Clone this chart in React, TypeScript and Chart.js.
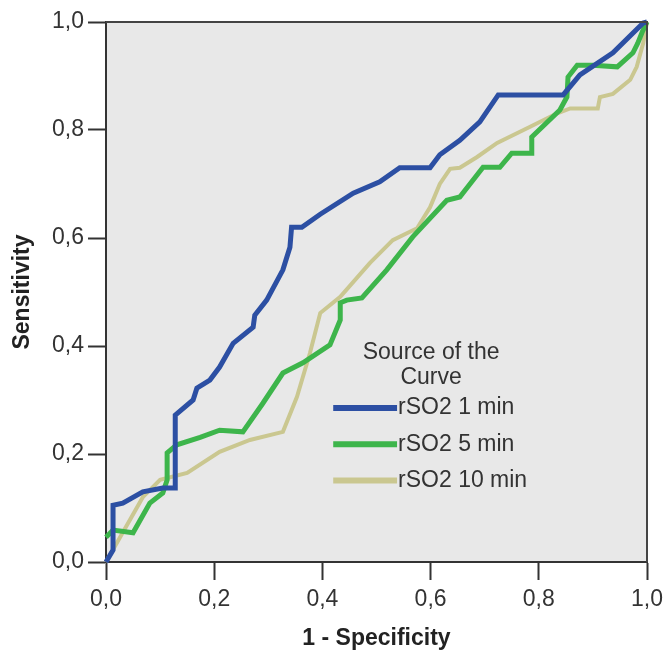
import React, { useEffect, useRef } from "react";
import { Chart, registerables } from "chart.js";

Chart.register(...registerables);

// ---- data ----
const SERIES_LABELS = ["rSO2 1 min", "rSO2 5 min", "rSO2 10 min"];
const LEGEND_TITLE = ["Source of the", "Curve"];
const X_TITLE = "1 - Specificity";
const Y_TITLE = "Sensitivity";
const TICK_VALUES = [0, 0.2, 0.4, 0.6, 0.8, 1.0];
const TICK_LABELS = ["0,0", "0,2", "0,4", "0,6", "0,8", "1,0"];

const blueX = [0, 0.013, 0.013, 0.031, 0.068, 0.105, 0.128, 0.128, 0.161, 0.168, 0.192, 0.21, 0.235, 0.272, 0.275, 0.297, 0.327, 0.34, 0.343, 0.362, 0.396, 0.457, 0.506, 0.543, 0.599, 0.617, 0.654, 0.691, 0.725, 0.845, 0.876, 0.937, 0.993, 1];
const blueY = [0, 0.022, 0.105, 0.109, 0.13, 0.137, 0.137, 0.272, 0.3, 0.322, 0.337, 0.361, 0.405, 0.435, 0.457, 0.485, 0.541, 0.583, 0.62, 0.62, 0.644, 0.683, 0.704, 0.73, 0.73, 0.754, 0.781, 0.815, 0.865, 0.865, 0.902, 0.943, 0.998, 1];

const greenX = [0, 0.013, 0.05, 0.081, 0.105, 0.113, 0.113, 0.131, 0.174, 0.21, 0.253, 0.29, 0.327, 0.364, 0.414, 0.433, 0.433, 0.445, 0.473, 0.519, 0.567, 0.63, 0.654, 0.697, 0.728, 0.75, 0.787, 0.787, 0.839, 0.852, 0.854, 0.871, 0.9, 0.945, 0.974, 0.983, 0.991, 1];
const greenY = [0.046, 0.059, 0.054, 0.109, 0.128, 0.152, 0.202, 0.217, 0.231, 0.244, 0.241, 0.294, 0.35, 0.369, 0.402, 0.448, 0.48, 0.485, 0.489, 0.541, 0.602, 0.67, 0.676, 0.731, 0.731, 0.757, 0.757, 0.787, 0.837, 0.861, 0.898, 0.92, 0.92, 0.917, 0.943, 0.961, 0.981, 1];

const khakiX = [0, 0.026, 0.068, 0.1, 0.15, 0.21, 0.266, 0.327, 0.353, 0.377, 0.396, 0.433, 0.488, 0.53, 0.575, 0.599, 0.617, 0.636, 0.654, 0.686, 0.723, 0.784, 0.834, 0.858, 0.909, 0.913, 0.937, 0.969, 0.981, 0.993, 1];
const khakiY = [0, 0.046, 0.12, 0.152, 0.165, 0.204, 0.226, 0.241, 0.306, 0.387, 0.461, 0.491, 0.554, 0.596, 0.618, 0.657, 0.7, 0.728, 0.73, 0.75, 0.776, 0.806, 0.831, 0.84, 0.84, 0.861, 0.867, 0.893, 0.917, 0.961, 1];

const COLORS = ["#2c4fa3", "#3db54b", "#cac790"];
const WIDTHS = [5, 5, 4];

const FONT = '"Liberation Sans", Arial, sans-serif';

const pts = (xs: number[], ys: number[]) => xs.map((x, i) => ({ x, y: ys[i] }));

const framePlugin = {
  id: "frame",
  beforeDraw(chart: any) {
    const { ctx, chartArea: a } = chart;
    ctx.save();
    ctx.fillStyle = "#ffffff";
    ctx.fillRect(0, 0, chart.width, chart.height);
    ctx.fillStyle = "#e8e8e8";
    ctx.fillRect(a.left, a.top, a.right - a.left, a.bottom - a.top);
    ctx.restore();
  },
  afterDraw(chart: any) {
    const { ctx, chartArea: a } = chart;
    ctx.save();
    ctx.strokeStyle = "#444";
    ctx.lineWidth = 2;
    ctx.beginPath();
    ctx.moveTo(a.left, a.top);
    ctx.lineTo(a.right, a.top);
    ctx.lineTo(a.right, a.bottom);
    ctx.stroke();
    ctx.restore();
  },
};

const legendPlugin = {
  id: "inlineLegend",
  afterDatasetsDraw(chart: any) {
    const { ctx, chartArea: a } = chart;
    const w = a.right - a.left;
    const h = a.bottom - a.top;
    const fx = (f: number) => a.left + f * w;
    const fy = (f: number) => a.top + f * h;
    ctx.save();
    ctx.font = `23px ${FONT}`;
    ctx.fillStyle = "#333";
    ctx.textBaseline = "middle";
    ctx.textAlign = "center";
    LEGEND_TITLE.forEach((t, i) => ctx.fillText(t, fx(0.601), fy(0.613 + i * 0.046)));
    ctx.textAlign = "left";
    chart.data.datasets.forEach((ds: any, i: number) => {
      const y = fy(0.715 + i * 0.067);
      ctx.strokeStyle = ds.borderColor;
      ctx.lineWidth = 6;
      ctx.beginPath();
      ctx.moveTo(fx(0.42), y);
      ctx.lineTo(fx(0.538), y);
      ctx.stroke();
      ctx.fillText(ds.label, fx(0.538) + 1, y);
    });
    ctx.restore();
  },
};

export default function App() {
  const ref = useRef<HTMLCanvasElement>(null);
  useEffect(() => {
    if (!ref.current) return;
    const series = [pts(blueX, blueY), pts(greenX, greenY), pts(khakiX, khakiY)];
    const tickCb = (_v: any, i: number) => TICK_LABELS[i];
    const axisCommon = {
      type: "linear" as const,
      min: 0,
      max: 1,
      afterBuildTicks: (s: any) => {
        s.ticks = TICK_VALUES.map((v) => ({ value: v }));
      },
      grid: {
        drawOnChartArea: false,
        drawTicks: true,
        tickLength: 18,
        tickWidth: 2,
        color: "#333",
      },
      border: { display: true, color: "#333", width: 2 },
    };
    const chart = new Chart(ref.current, {
      type: "line",
      data: {
        datasets: series.map((d, i) => ({
          label: SERIES_LABELS[i],
          data: d,
          borderColor: COLORS[i],
          backgroundColor: COLORS[i],
          borderWidth: WIDTHS[i],
          pointRadius: 0,
          tension: 0,
          fill: false,
          clip: 6,
          borderJoinStyle: "miter" as const,
        })),
      },
      options: {
        responsive: false,
        animation: false,
        layout: { padding: { top: 22, right: 18, left: 0, bottom: 0 } },
        plugins: { legend: { display: false }, tooltip: { enabled: false } },
        scales: {
          x: {
            ...axisCommon,
            position: "bottom",
            afterFit: (s: any) => {
              s.height = 95;
              s.paddingLeft = 0;
              s.paddingRight = 0;
            },
            ticks: { callback: tickCb, font: { family: FONT, size: 23 }, color: "#333", padding: 6, maxRotation: 0 },
            title: { display: true, text: X_TITLE, font: { family: FONT, size: 23, weight: "bold" }, color: "#222", padding: { top: 0, bottom: 5 } },
          },
          y: {
            ...axisCommon,
            position: "left",
            afterFit: (s: any) => {
              s.width = 106;
              s.paddingTop = 0;
              s.paddingBottom = 0;
            },
            ticks: { callback: tickCb, font: { family: FONT, size: 23 }, color: "#333", padding: 4 },
            title: { display: true, text: Y_TITLE, font: { family: FONT, size: 23, weight: "bold" }, color: "#222", padding: { top: 9, bottom: 0 } },
          },
        },
      } as any,
      plugins: [framePlugin, legendPlugin],
    });
    return () => chart.destroy();
  }, []);
  return (
    <div style={{ position: "fixed", left: 0, top: 0, width: 665, height: 657, background: "#fff" }}>
      <canvas ref={ref} width={665} height={657} style={{ display: "block" }} />
    </div>
  );
}
